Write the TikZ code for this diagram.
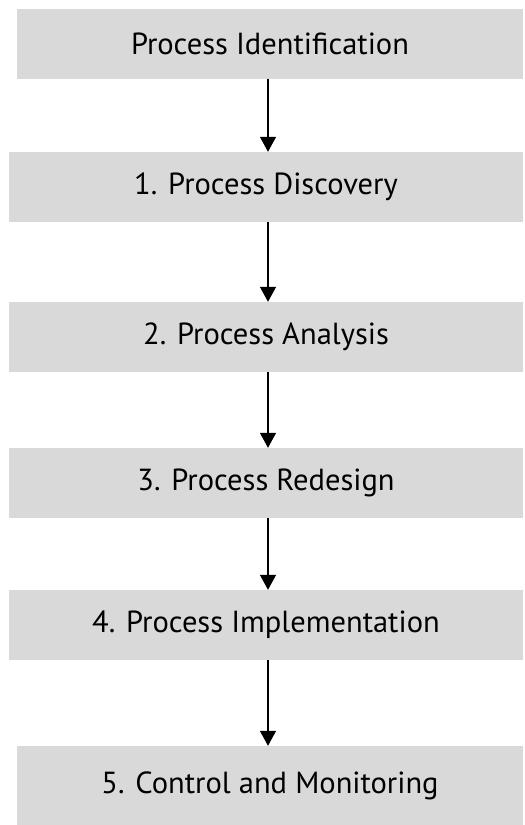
\documentclass[tikz,border=0pt]{standalone}
\usepackage{fontspec}
\setmainfont{PT Sans}
\usetikzlibrary{arrows.meta}
\begin{document}
\begin{tikzpicture}[x=1pt,y=-1pt,
  stagebox/.style={fill=black!15, draw=none, inner sep=0pt, font=\fontsize{30.5}{36}\selectfont},
  flowarrow/.style={draw=black, line width=1.2pt, -{Triangle[width=16pt,length=15pt]}}]
\useasboundingbox (0,0) rectangle (525,825);
\node[stagebox, minimum width=506pt, minimum height=70pt] (b1) at (270,44) {Process Identification};
\node[stagebox, minimum width=514pt, minimum height=70pt] (b2) at (266,187) {1. Process Discovery};
\node[stagebox, minimum width=514pt, minimum height=70pt] (b3) at (266,337) {2. Process Analysis};
\node[stagebox, minimum width=514pt, minimum height=70pt] (b4) at (266,483) {3. Process Redesign};
\node[stagebox, minimum width=514pt, minimum height=70pt] (b5) at (266,625) {4. Process Implementation};
\node[stagebox, minimum width=506pt, minimum height=79pt] (b6) at (270,785.5) {5. Control and Monitoring};
\draw[flowarrow] (b1.south -| 268,0) -- (b2.north -| 268,0);
\draw[flowarrow] (b2.south -| 268,0) -- (b3.north -| 268,0);
\draw[flowarrow] (b3.south -| 268,0) -- (b4.north -| 268,0);
\draw[flowarrow] (b4.south -| 268,0) -- (b5.north -| 268,0);
\draw[flowarrow] (b5.south -| 268,0) -- (b6.north -| 268,0);
\end{tikzpicture}
\end{document}
